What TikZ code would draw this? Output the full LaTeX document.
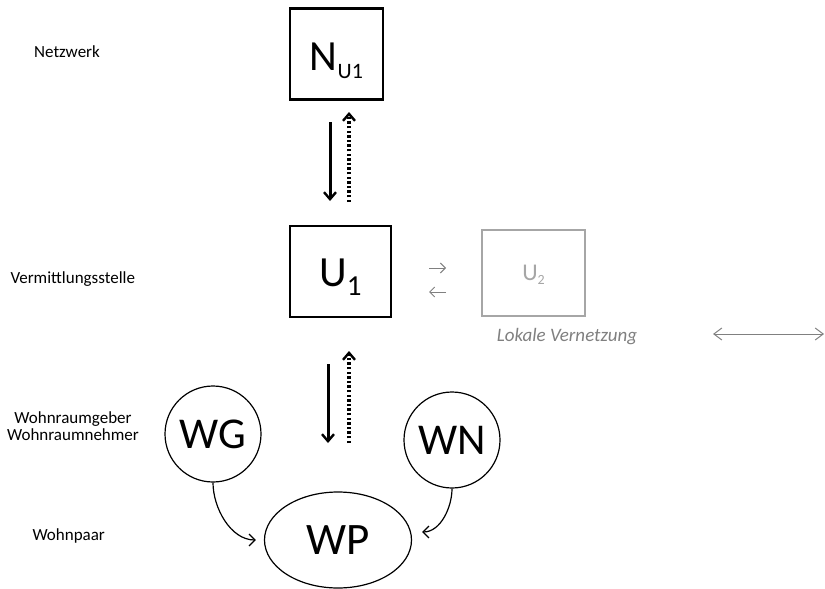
\documentclass[tikz,border=0pt]{standalone}
\usepackage{fontspec}
\setmainfont{Carlito}
\usetikzlibrary{arrows.meta,shapes.geometric}
\definecolor{lightgr}{HTML}{A6A6A6}
\definecolor{textgr}{HTML}{808080}
\begin{document}
\begin{tikzpicture}[x=1pt,y=-1pt,
  bigbox/.style={draw,line width=2.8pt,minimum height=91pt,inner sep=0pt,font=\fontsize{43}{43}\selectfont},
  graybox/.style={draw=lightgr,line width=2.2pt,minimum width=103pt,minimum height=86pt,inner sep=0pt,text=lightgr,font=\fontsize{24}{24}\selectfont},
  person/.style={draw,line width=1.2pt,circle,minimum size=96pt,inner sep=0pt,font=\fontsize{44}{44}\selectfont},
  lbl/.style={font=\fontsize{17}{20}\selectfont,align=center},
  solidarr/.style={line width=3pt,-{Straight Barb[length=7pt,width=12pt,line width=2.4pt]}},
  dotarr/.style={line width=3.2pt,dash pattern=on 2.4pt off 2.2pt,-{Straight Barb[length=7pt,width=12pt,line width=2.4pt]}},
  grayarr/.style={draw=textgr,line width=1pt,-{Straight Barb[length=5pt,width=10pt]}},
  curvearr/.style={line width=1.2pt,-{Straight Barb[length=6pt,width=12pt]}}]
\useasboundingbox (0,0) rectangle (825,589);
% left labels
\node[lbl] (lnetz) at (67,52) {Netzwerk};
\node[lbl,anchor=west] (lverm) at (7,279) {Vermittlungsstelle};
\node[lbl] (lwohn) at (73,426) {Wohnraumgeber\\[-3pt]Wohnraumnehmer};
\node[lbl,anchor=west] (lpaar) at (29,536) {Wohnpaar};
% boxes
\node[bigbox,minimum width=93pt,text height=32pt] (N) at (336.5,54) {N\smash{\raisebox{-9pt}{\fontsize{22}{22}\selectfont U1}}};
\node[bigbox,minimum width=101pt,text height=30pt] (U1) at (340.5,271.5) {U\smash{\raisebox{-9pt}{\fontsize{29}{29}\selectfont 1}}};
\node[graybox] (U2) at (533.5,273) {U\smash{\raisebox{-4pt}{\fontsize{14}{14}\selectfont 2}}};
\node[font=\fontsize{19}{19}\selectfont\itshape,text=textgr] (lok) at (567,337) {Lokale Vernetzung};
% circles
\node[person] (WG) at (213,434) {WG};
\node[person] (WN) at (452,440) {WN};
\node[draw,line width=1.2pt,ellipse,minimum width=147pt,minimum height=96pt,inner sep=0pt,font=\fontsize{45}{45}\selectfont] (WP) at (338,540) {WP};
% coordinates for vertical arrows
\coordinate (a1s) at (330,122);
\coordinate (a1e) at (330,201);
\coordinate (a2s) at (349,202);
\coordinate (a2e) at (349,112);
\coordinate (b1s) at (328,364);
\coordinate (b1e) at (328,443);
\coordinate (b2s) at (349,443);
\coordinate (b2e) at (349,351);
\draw[solidarr] (a1s) -- (a1e);
\draw[dotarr] (a2s) -- (a2e);
\draw[solidarr] (b1s) -- (b1e);
\draw[dotarr] (b2s) -- (b2e);
% gray small arrows
\coordinate (g1s) at (429,268);
\coordinate (g1e) at (446,268);
\coordinate (g2s) at (446,292);
\coordinate (g2e) at (429,292);
\draw[grayarr] (g1s) -- (g1e);
\draw[grayarr] (g2s) -- (g2e);
% double arrow
\coordinate (d1) at (713,334);
\coordinate (d2) at (824,334);
\draw[draw=textgr,line width=1pt,{Straight Barb[length=8pt,width=12pt]}-{Straight Barb[length=8pt,width=12pt]}] (d1) -- (d2);
% curved arrows
\draw[curvearr] (WG.south) to[out=-90,in=180,looseness=0.9] ([xshift=-8pt]WP.west);
\draw[curvearr] (WN.south) to[out=-90,in=0,looseness=0.9] ([xshift=10pt,yshift=8pt]WP.east);
\end{tikzpicture}
\end{document}
